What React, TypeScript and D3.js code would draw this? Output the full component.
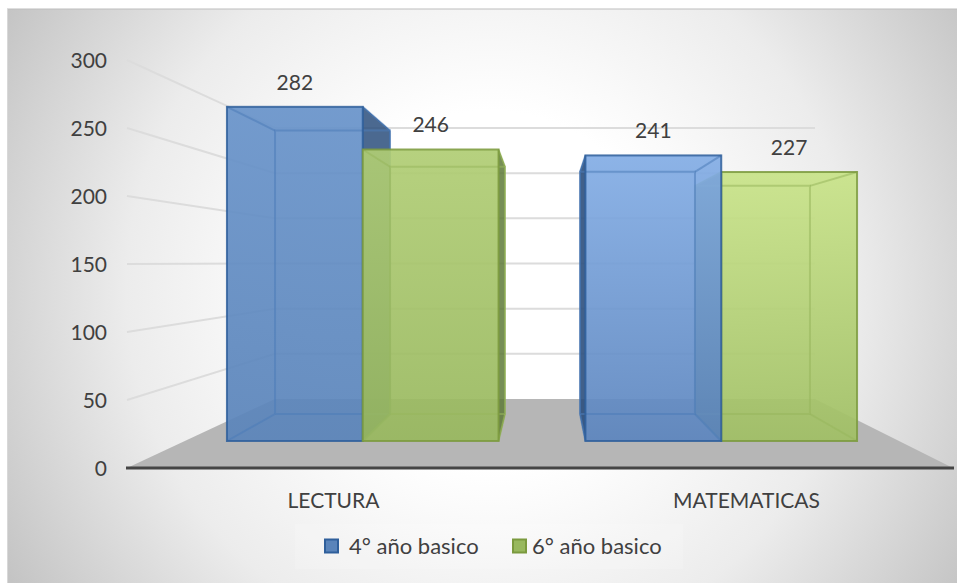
import React from "react";
import * as d3 from "d3";

const categories = ["LECTURA", "MATEMATICAS"];
const seriesNames = ["4° año basico", "6° año basico"];
const lectura = [282, 246];
const matematicas = [241, 227];
const yTicks = [0, 50, 100, 150, 200, 250, 300];

const W = 957, H = 583;
const FONT = "Lato, 'Open Sans', sans-serif";
const TEXT = "#404040";

// perspective planes
const frontX = d3.scaleBand<string>().domain(categories).range([183.5, 900.5]).paddingInner(0.2423).paddingOuter(0.1212);
const backX = d3.scaleBand<string>().domain(categories).range([237.5, 847.5]).paddingInner(0.2459).paddingOuter(0.123);
const axisX = d3.scaleBand<string>().domain(categories).range([127, 953]);
const frontY = d3.scaleLinear().domain([0, 300]).range([441, 85.5]);
const backY = d3.scaleLinear().domain([0, 300]).range([414, 112.5]);
const wallFrontY = d3.scaleLinear().domain([0, 300]).range([468, 60]);
const wallBackY = d3.scaleLinear().domain([0, 300]).range([399, 128]);

const pts = (p: number[][]) => p.map((d) => d.join(",")).join(" ");

const palette = [
  { edge: "#2f5f9b", line: "#4c7cb8", dark: "#2c4f7d", top: ["#6893ca", "#83ade5"], bottom: ["#5a84ba", "#5c85be"] },
  { edge: "#7b9a3e", line: "#97b65c", dark: "#5e7a38", top: ["#b0cd74", "#c8e388"], bottom: ["#98b85e", "#a0bf64"] },
];

function Box({ cat, catIndex, s, value }: { cat: string; catIndex: number; s: number; value: number }) {
  const fb = frontX.bandwidth() / 2, bb = backX.bandwidth() / 2;
  const fl = frontX(cat)! + s * fb, fr = fl + fb;
  const bl = backX(cat)! + s * bb, br = bl + bb;
  const ft = frontY(value), fz = frontY(0), bt = backY(value), bz = backY(0);
  const c = palette[s];
  const id = `g${catIndex}${s}`;
  const leftOuter = bl < fl;
  const rightOuter = br > fr;
  return (
    <g>
      <defs>
        <linearGradient id={id} x1="0" x2="0" y1="0" y2="1">
          <stop offset="0" stopColor={c.top[catIndex]} />
          <stop offset="1" stopColor={c.bottom[catIndex]} />
        </linearGradient>
      </defs>
      {leftOuter && <polygon points={pts([[fl, ft], [bl, bt], [bl, bz], [fl, fz]])} fill={c.dark} fillOpacity={0.9} stroke={c.edge} strokeWidth={1} />}
      {rightOuter && <polygon points={pts([[fr, ft], [br, bt], [br, bz], [fr, fz]])} fill={c.dark} fillOpacity={0.85} stroke={c.edge} strokeWidth={1} />}
      <rect x={fl} y={ft} width={fr - fl} height={fz - ft} fill={`url(#${id})`} fillOpacity={0.92} />
      {/* inner edges of the translucent box */}
      <g fill="none" stroke={c.line} strokeWidth={2} strokeOpacity={0.55}>
        <polyline points={pts([[bl, bz], [bl, bt], [br, bt], [br, bz], [bl, bz]])} />
        <line x1={fl} y1={ft} x2={bl} y2={bt} />
        <line x1={fr} y1={ft} x2={br} y2={bt} />
        <line x1={fl} y1={fz} x2={bl} y2={bz} />
        <line x1={fr} y1={fz} x2={br} y2={bz} />
      </g>
      <rect x={fl} y={ft} width={fr - fl} height={fz - ft} fill="none" stroke={c.edge} strokeOpacity={0.85} strokeWidth={2} />
    </g>
  );
}

export default function App() {
  const values = [lectura, matematicas];
  const labelOffset = 24;
  const boxes = [
    { c: 0, s: 0 }, { c: 0, s: 1 },
    { c: 1, s: 1 }, { c: 1, s: 0 },
  ];
  return (
    <svg width={W} height={H} style={{ position: "fixed", left: 0, top: 0 }} fontFamily={FONT}>
      <defs>
        <radialGradient id="bg" gradientUnits="userSpaceOnUse" cx={490} cy={290} r={560}>
          <stop offset="0.32" stopColor="#ffffff" />
          <stop offset="0.65" stopColor="#ececec" />
          <stop offset="1" stopColor="#c4c4c4" />
        </radialGradient>
      </defs>
      <rect width={W} height={H} fill="#ffffff" />
      <rect x={7} y={9} width={W - 7} height={H - 9} fill="url(#bg)" />
      <line x1={7} y1={9} x2={W} y2={9} stroke="#bdbdbd" />
      <line x1={7.5} y1={9} x2={7.5} y2={H} stroke="#d8d8d8" />

      {/* walls and floor */}
      <polygon
        points={pts([[127, wallFrontY(0)], [275, wallBackY(0)], [815, wallBackY(0)], [953, wallFrontY(0)]])}
        fill="#b6b6b6"
      />
      <g stroke="#dcdcdc" strokeWidth={2} fill="none">
        {yTicks.filter((t) => t > 0).map((t) => (
          <polyline key={t} points={pts([[127, wallFrontY(t)], [275, wallBackY(t)], [815, wallBackY(t)]])} />
        ))}
      </g>
      <line x1={126} x2={954} y1={wallFrontY(0)} y2={wallFrontY(0)} stroke="#454545" strokeWidth={3} />

      {yTicks.map((t) => (
        <text key={t} x={107} y={wallFrontY(t) + 8} fontSize={21} fill={TEXT} textAnchor="end">{t}</text>
      ))}

      {boxes.map(({ c, s }) => (
        <Box key={`${c}-${s}`} cat={categories[c]} catIndex={c} s={s} value={values[c][s]} />
      ))}

      {boxes.map(({ c, s }) => {
        const fb = frontX.bandwidth() / 2;
        const cx = frontX(categories[c])! + (s + 0.5) * fb;
        return (
          <text key={`l${c}-${s}`} x={cx} y={frontY(values[c][s]) - labelOffset + 7} fontSize={21} fill={TEXT} textAnchor="middle">
            {values[c][s]}
          </text>
        );
      })}

      {categories.map((cat) => (
        <text key={cat} x={axisX(cat)! + axisX.bandwidth() / 2} y={508} fontSize={21} fill={TEXT} textAnchor="middle">{cat}</text>
      ))}

      {/* legend */}
      <rect x={295} y={524} width={388} height={45} fill="#ffffff" fillOpacity={0.15} />
      {seriesNames.map((name, i) => {
        const sx = [325, 513][i], tx = [349, 532][i];
        const col = palette[i];
        return (
          <g key={name}>
            <rect x={sx} y={539.5} width={13} height={13} fill={col.bottom[0]} stroke={col.edge} strokeWidth={2} />
            <text x={tx} y={554} fontSize={22} fill={TEXT}>{name}</text>
          </g>
        );
      })}
    </svg>
  );
}
